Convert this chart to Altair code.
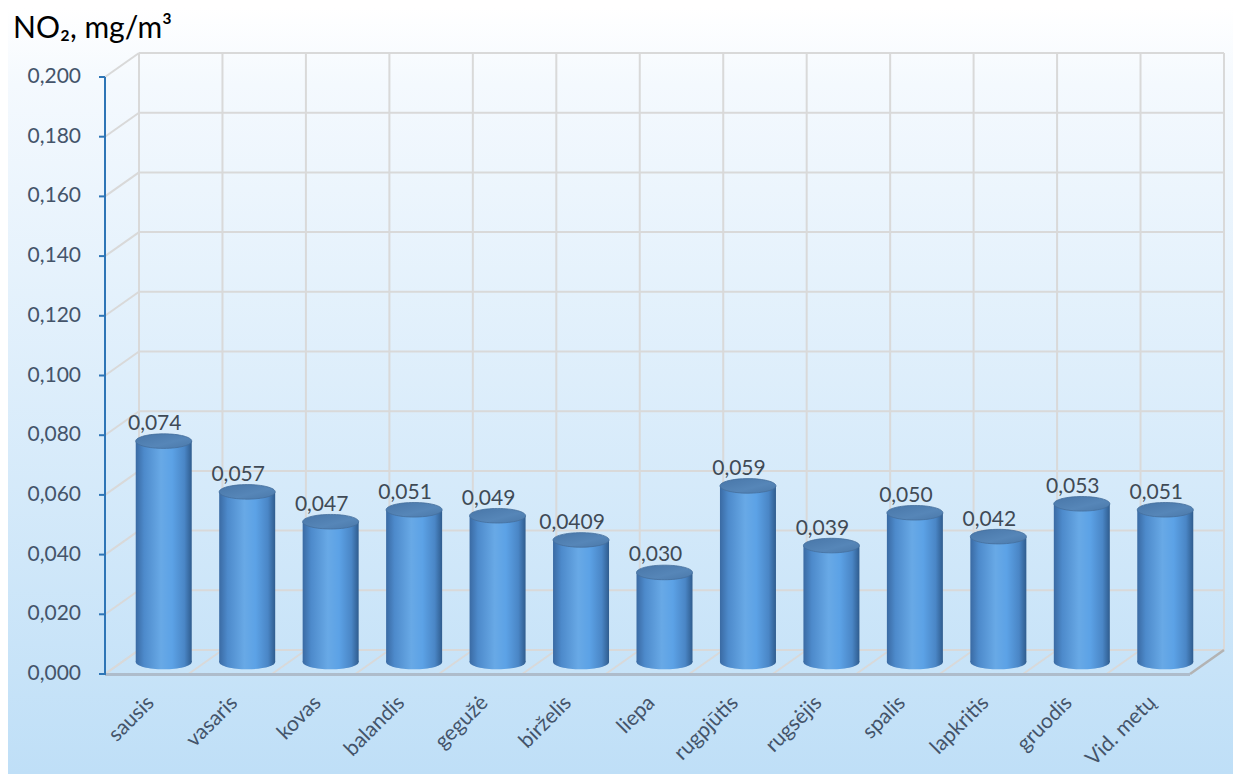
import altair as alt
import pandas as pd

# ---- data ----
categories = ["sausis", "vasaris", "kovas", "balandis", "gegužė", "birželis", "liepa",
              "rugpjūtis", "rugsėjis", "spalis", "lapkritis", "gruodis", "Vid. metų"]
values = [0.074, 0.057, 0.047, 0.051, 0.049, 0.0409, 0.030, 0.059, 0.039, 0.050, 0.042, 0.053, 0.051]
value_labels = ["0,074", "0,057", "0,047", "0,051", "0,049", "0,0409", "0,030", "0,059",
                "0,039", "0,050", "0,042", "0,053", "0,051"]
y_ticks = [0.0, 0.02, 0.04, 0.06, 0.08, 0.10, 0.12, 0.14, 0.16, 0.18, 0.20]
y_tick_labels = ["0,000", "0,020", "0,040", "0,060", "0,080", "0,100", "0,120", "0,140",
                 "0,160", "0,180", "0,200"]
title_text = "NO₂, mg/m³"

W, H = 1085, 597
DX, DY = 34, -24          # 3D depth offset of back wall
BX, BY = 17, -12          # bar (mid-depth) offset
FONT = "Lato"
GRID = "#d9d9d9"
AXIS_BLUE = "#2e75b6"
LABEL_COL = "#44546a"

df = pd.DataFrame({"cat": categories, "val": values, "lab": value_labels, "zero": [0.0] * len(values)})
grid_df = pd.DataFrame({"v": y_ticks, "t": y_tick_labels})
one = pd.DataFrame({"a": [0]})

xs = alt.Scale(domain=categories, paddingInner=0, paddingOuter=0)
ys = alt.Scale(domain=[0, 0.2], nice=False, zero=True)


def X(**kw):
    return alt.X("cat:N", scale=xs, sort=categories, axis=None, title=None, **kw)


def Y(field):
    return alt.Y(field, scale=ys, axis=None, title=None)


bg_grad = alt.Gradient(gradient="linear", x1=0, y1=0, x2=0, y2=1,
                       stops=[alt.GradientStop(color="#ffffff", offset=0),
                              alt.GradientStop(color="#f4f9fe", offset=0.1),
                              alt.GradientStop(color="#bfdff7", offset=1)])
bar_grad = alt.Gradient(gradient="linear", x1=0, y1=0, x2=1, y2=0,
                        stops=[alt.GradientStop(color="#3a6aa3", offset=0),
                               alt.GradientStop(color="#4d8acb", offset=0.15),
                               alt.GradientStop(color="#68a9e6", offset=0.45),
                               alt.GradientStop(color="#5ca2e6", offset=0.65),
                               alt.GradientStop(color="#4a86c6", offset=0.87),
                               alt.GradientStop(color="#2f5c8e", offset=1)])
top_grad = alt.Gradient(gradient="linear", x1=0, y1=0, x2=1, y2=1,
                        stops=[alt.GradientStop(color="#4876a8", offset=0),
                               alt.GradientStop(color="#5686b8", offset=0.6),
                               alt.GradientStop(color="#4a78a9", offset=1)])

ELLIPSE = "M-1,0C-1,-0.145,-0.55,-0.26,0,-0.26C0.55,-0.26,1,-0.145,1,0C1,0.145,0.55,0.26,0,0.26C-0.55,0.26,-1,0.145,-1,0Z"
DIAG = "M0,0L1,-0.706"

background = alt.Chart(one).mark_rect(fill=bg_grad).encode(
    x=alt.value(-97), x2=alt.value(W + 43), y=alt.value(-69), y2=alt.value(H + 100))

# 3D walls / floor gridlines
back_h = alt.Chart(grid_df).mark_rule(color=GRID, strokeWidth=2, yOffset=DY).encode(
    y=Y("v:Q"), x=alt.value(DX), x2=alt.value(W + DX))
left_diag = alt.Chart(grid_df).mark_rule(color=GRID, strokeWidth=2, y2Offset=DY).encode(
    y=Y("v:Q"), y2=alt.Y2("v"), x=alt.value(0), x2=alt.value(DX))
back_v = alt.Chart(df).mark_rule(color=GRID, strokeWidth=2, xOffset=DX).encode(
    x=X(bandPosition=0), y=alt.value(DY), y2=alt.value(H + DY))
back_v_end = alt.Chart(one).mark_rule(color=GRID, strokeWidth=2).encode(
    x=alt.value(W + DX), y=alt.value(DY), y2=alt.value(H + DY))
floor_diag = alt.Chart(df).mark_point(shape=DIAG, size=(2 * DX) ** 2, filled=False, stroke=GRID,
                                      strokeWidth=2, opacity=1).encode(
    x=X(bandPosition=0), y=alt.value(H))
floor_right = alt.Chart(one).mark_rule(color="#b3b3b3", strokeWidth=2.5).encode(
    x=alt.value(W), x2=alt.value(W + DX), y=alt.value(H), y2=alt.value(H + DY))

# axes drawn with marks
x_domain = alt.Chart(one).mark_rule(color="#aebccb", strokeWidth=3).encode(
    x=alt.value(0), x2=alt.value(W), y=alt.value(H + 0.5))
y_domain = alt.Chart(one).mark_rule(color=AXIS_BLUE, strokeWidth=2).encode(
    x=alt.value(0), y=alt.value(0), y2=alt.value(H + 1))
y_tick_marks = alt.Chart(grid_df).mark_rule(color=AXIS_BLUE, strokeWidth=2).encode(
    y=Y("v:Q"), x=alt.value(-6), x2=alt.value(0))
y_tick_text = alt.Chart(grid_df).mark_text(font=FONT, fontSize=21, color=LABEL_COL, align="right",
                                           baseline="middle", dx=-24).encode(
    y=Y("v:Q"), x=alt.value(0), text="t:N")
x_tick_text = alt.Chart(df).mark_text(font=FONT, fontSize=21, color=LABEL_COL, align="right",
                                      baseline="middle", angle=315, dx=6).encode(
    x=X(), y=alt.value(H + 30), text="cat:N")

# cylinders
bottom_ell = alt.Chart(df).mark_point(shape=ELLIPSE, size=56 ** 2, filled=True, fill=bar_grad,
                                      strokeWidth=0, opacity=1, xOffset=BX, yOffset=BY).encode(
    x=X(), y=Y("zero:Q"))
bars = alt.Chart(df).mark_bar(size=56, fill=bar_grad, xOffset=BX, yOffset=BY, y2Offset=BY).encode(
    x=X(), y=Y("val:Q"), y2=alt.Y2("zero"))
top_ell = alt.Chart(df).mark_point(shape=ELLIPSE, size=56 ** 2, filled=True, fill=top_grad,
                                   stroke="#456f9c", strokeWidth=0.8, opacity=1,
                                   xOffset=BX, yOffset=BY).encode(
    x=X(), y=Y("val:Q"))

texts = alt.Chart(df).mark_text(font=FONT, fontSize=21, color="#404a56", baseline="alphabetic",
                                dx=BX - 9, dy=BY - 11).encode(
    x=X(), y=Y("val:Q"), text="lab:N")

title = alt.Chart(one).mark_text(text=title_text, font=FONT, fontSize=30, color="#000000",
                                 align="left", baseline="alphabetic").encode(
    x=alt.value(13 - 105), y=alt.value(38 - 77))

chart = alt.layer(background, back_h, left_diag, back_v, back_v_end, floor_diag, floor_right,
                  x_domain, y_domain, y_tick_marks, y_tick_text, x_tick_text,
                  bottom_ell, bars, top_ell, texts, title).properties(
    width=W, height=H,
    autosize=alt.AutoSizeParams(type="none"),
    padding={"left": 97, "top": 69, "right": 43, "bottom": 100},
    background="#ffffff",
).configure(font=FONT).configure_view(strokeWidth=0)

chart.save("out.html", embed_options={"renderer": "svg", "actions": False})
